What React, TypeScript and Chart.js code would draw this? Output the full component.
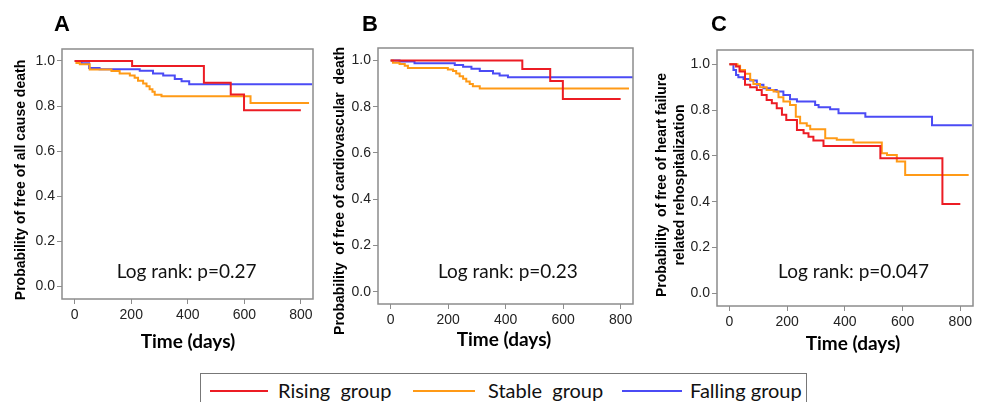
import React, { useEffect, useRef } from "react";
import { Chart, registerables } from "chart.js";

Chart.register(...registerables);

// ---------- data ----------
const xTicks = [0, 200, 400, 600, 800];
const yTicks = [0, 0.2, 0.4, 0.6, 0.8, 1.0];
const groupNames = ["Rising  group", "Stable  group", "Falling group"];
const groupColors = ["#ec1c24", "#ff9a16", "#4b4bf5"];
const xTitle = "Time (days)";
const panelLetters = ["A", "B", "C"];
const yTitles = [
  ["Probability of free of all cause death"],
  ["Probability  of free of cardiovascular  death"],
  ["Probability  of free of heart failure", "related rehospitalization"],
];
const logRankTexts = ["Log rank: p=0.27", "Log rank: p=0.23", "Log rank: p=0.047"];
const logRankAt = [
  [396, 0.037],
  [408, 0.06],
  [430, 0.068],
];

// Panel A: all cause death  [days, survival]
const aRising = [[0, 1], [203, 0.978], [457, 0.903], [552, 0.851], [599, 0.781], [800, 0.781]];
const aStable = [[0, 1], [6, 0.991], [18, 0.985], [53, 0.962], [130, 0.955], [159, 0.944], [195, 0.935], [212, 0.925], [224, 0.912], [242, 0.9], [254, 0.888], [265, 0.875], [275, 0.863], [283, 0.85], [307, 0.843], [622, 0.813], [829, 0.813]];
const aFalling = [[0, 1], [24, 0.99], [51, 0.969], [88, 0.963], [230, 0.956], [277, 0.944], [313, 0.935], [354, 0.92], [378, 0.91], [405, 0.897], [840, 0.897]];

// Panel B: cardiovascular death
const bRising = [[0, 1], [458, 0.963], [555, 0.911], [599, 0.833], [800, 0.833]];
const bStable = [[0, 1], [8, 0.99], [31, 0.985], [49, 0.977], [60, 0.968], [199, 0.961], [217, 0.955], [228, 0.944], [240, 0.932], [252, 0.921], [263, 0.909], [275, 0.898], [286, 0.889], [310, 0.879], [829, 0.879]];
const bFalling = [[0, 1], [31, 0.996], [83, 0.988], [223, 0.98], [252, 0.973], [281, 0.964], [310, 0.955], [356, 0.944], [379, 0.935], [408, 0.928], [843, 0.928]];

// Panel C: heart failure related rehospitalization
const cRising = [[0, 1], [23, 0.99], [35, 0.968], [54, 0.91], [72, 0.9], [95, 0.888], [112, 0.866], [129, 0.844], [147, 0.83], [164, 0.808], [182, 0.779], [197, 0.757], [234, 0.713], [257, 0.699], [274, 0.684], [291, 0.667], [326, 0.643], [523, 0.59], [738, 0.39], [800, 0.39]];
const cStable = [[0, 1], [28, 0.993], [37, 0.975], [54, 0.958], [72, 0.931], [83, 0.914], [106, 0.9], [129, 0.888], [153, 0.881], [170, 0.856], [187, 0.837], [210, 0.822], [230, 0.771], [245, 0.742], [268, 0.731], [280, 0.716], [332, 0.677], [372, 0.67], [430, 0.658], [528, 0.611], [546, 0.604], [580, 0.575], [609, 0.517], [829, 0.517]];
const cFalling = [[0, 1], [14, 0.975], [23, 0.953], [31, 0.943], [49, 0.936], [72, 0.929], [95, 0.91], [118, 0.895], [141, 0.888], [164, 0.881], [187, 0.866], [210, 0.847], [234, 0.837], [297, 0.822], [309, 0.812], [349, 0.803], [378, 0.786], [471, 0.771], [702, 0.734], [840, 0.734]];

const panelSeries = [
  [aRising, aStable, aFalling],
  [bRising, bStable, bFalling],
  [cRising, cStable, cFalling],
];

// ---------- layout (pixels) ----------
const CANVAS_H = 365;
const layouts = [
  { left: 0, width: 322, padTop: 49, padRight: 9, yAxisW: 62, xAxisH: 66, xMin: -45, xMax: 843, yMin: -0.056, yMax: 1.053, yTitleX: 21, yTitleY: 180, xTitleX: 188, xTitleY: 342, letterX: 62 },
  { left: 322, width: 318, padTop: 48, padRight: 7, yAxisW: 56, xAxisH: 61, xMin: -44, xMax: 843, yMin: -0.053, yMax: 1.054, yTitleX: 18, yTitleY: 191, xTitleX: 182, xTitleY: 340, letterX: 370 },
  { left: 645, width: 338, padTop: 50, padRight: 10, yAxisW: 72, xAxisH: 59, xMin: -43, xMax: 844, yMin: -0.055, yMax: 1.062, yTitleX: 17, yTitleY: 185, xTitleX: 208, xTitleY: 344, letterX: 719 },
];

const FRAME = "#8c8c8c";
const TICK_FONT = { family: "'Liberation Sans', Arial, sans-serif", size: 14 };
const TICK_COLOR = "#222";

function Panel({ idx }: { idx: number }) {
  const ref = useRef<HTMLCanvasElement | null>(null);
  const L = layouts[idx];
  useEffect(() => {
    if (!ref.current) return;
    const textPlugin = {
      id: "panelText" + idx,
      afterDraw(chart: any) {
        const { ctx, chartArea, scales } = chart;
        ctx.save();
        // frame
        ctx.strokeStyle = FRAME;
        ctx.lineWidth = 1.5;
        ctx.strokeRect(chartArea.left, chartArea.top, chartArea.right - chartArea.left, chartArea.bottom - chartArea.top);
        // log rank annotation
        ctx.fillStyle = "#111";
        ctx.font = "19px Lato, 'Open Sans', sans-serif";
        ctx.textAlign = "center";
        ctx.textBaseline = "alphabetic";
        const [lx, ly] = logRankAt[idx];
        ctx.fillText(logRankTexts[idx], scales.x.getPixelForValue(lx), scales.y.getPixelForValue(ly));
        // x title
        ctx.fillStyle = "#000";
        ctx.font = "bold 19px Lato, 'Open Sans', sans-serif";
        ctx.textBaseline = "middle";
        ctx.fillText(xTitle, L.xTitleX, L.xTitleY);
        // y title (rotated)
        ctx.font = "bold 14px 'Liberation Sans', Arial, sans-serif";
        ctx.translate(L.yTitleX, L.yTitleY);
        ctx.rotate(-Math.PI / 2);
        yTitles[idx].forEach((line, i) => ctx.fillText(line, 0, i * 18));
        ctx.restore();
      },
    };
    const chart = new Chart(ref.current, {
      type: "line",
      data: {
        datasets: panelSeries[idx].map((s, i) => ({
          label: groupNames[i],
          data: s.map(([x, y]) => ({ x, y })),
          borderColor: groupColors[i],
          borderWidth: 2,
          pointRadius: 0,
          stepped: true,
          fill: false,
        })),
      },
      options: {
        animation: false,
        responsive: false,
        events: [],
        layout: { padding: { top: L.padTop, right: L.padRight, left: 0, bottom: 0 } },
        plugins: { legend: { display: false }, tooltip: { enabled: false } },
        scales: {
          x: {
            type: "linear",
            min: L.xMin,
            max: L.xMax,
            afterBuildTicks: (s: any) => {
              s.ticks = xTicks.map((v) => ({ value: v }));
            },
            afterFit: (s: any) => {
              s.height = L.xAxisH;
            },
            grid: { drawOnChartArea: false, drawTicks: true, tickLength: 5, color: FRAME, lineWidth: 1 },
            border: { display: false },
            ticks: { font: TICK_FONT, color: TICK_COLOR, padding: 3, maxRotation: 0, autoSkip: false },
          },
          y: {
            type: "linear",
            min: L.yMin,
            max: L.yMax,
            afterBuildTicks: (s: any) => {
              s.ticks = yTicks.map((v) => ({ value: v }));
            },
            afterFit: (s: any) => {
              s.width = L.yAxisW;
            },
            grid: { drawOnChartArea: false, drawTicks: true, tickLength: 5, color: FRAME, lineWidth: 1 },
            border: { display: false },
            ticks: {
              font: TICK_FONT,
              color: TICK_COLOR,
              padding: 2,
              autoSkip: false,
              callback: (v: any) => Number(v).toFixed(1),
            },
          },
        },
      },
      plugins: [textPlugin],
    } as any);
    return () => chart.destroy();
  }, [idx]);
  return (
    <canvas
      ref={ref}
      width={L.width}
      height={CANVAS_H}
      style={{ position: "absolute", left: L.left, top: 0, width: L.width, height: CANVAS_H }}
    />
  );
}

const legendItems = [
  { lineL: 210, lineR: 268, textL: 278 },
  { lineL: 413, lineR: 475, textL: 488 },
  { lineL: 622, lineR: 682, textL: 690 },
];

export default function App() {
  return (
    <div
      style={{
        position: "fixed",
        left: 0,
        top: 0,
        width: 983,
        height: 402,
        overflow: "hidden",
        background: "#fff",
      }}
    >
      {[0, 1, 2].map((i) => (
        <Panel key={i} idx={i} />
      ))}
      {panelLetters.map((t, i) => (
        <div
          key={t}
          style={{
            position: "absolute",
            left: layouts[i].letterX - 20,
            width: 40,
            top: 13,
            textAlign: "center",
            font: "bold 22px 'Liberation Sans', Arial, sans-serif",
            lineHeight: "22px",
            color: "#000",
          }}
        >
          {t}
        </div>
      ))}
      <div
        style={{
          position: "absolute",
          left: 200,
          top: 373,
          width: 607,
          height: 60,
          border: "1px solid #777",
          boxSizing: "border-box",
        }}
      />
      {legendItems.map((it, i) => (
        <React.Fragment key={i}>
          <div
            style={{
              position: "absolute",
              left: it.lineL,
              width: it.lineR - it.lineL,
              top: 390,
              height: 2,
              background: groupColors[i],
            }}
          />
          <div
            style={{
              position: "absolute",
              left: it.textL,
              top: 380,
              font: "20px Lato, 'Open Sans', sans-serif",
              lineHeight: "20px",
              whiteSpace: "pre",
              color: "#111",
            }}
          >
            {groupNames[i]}
          </div>
        </React.Fragment>
      ))}
    </div>
  );
}
